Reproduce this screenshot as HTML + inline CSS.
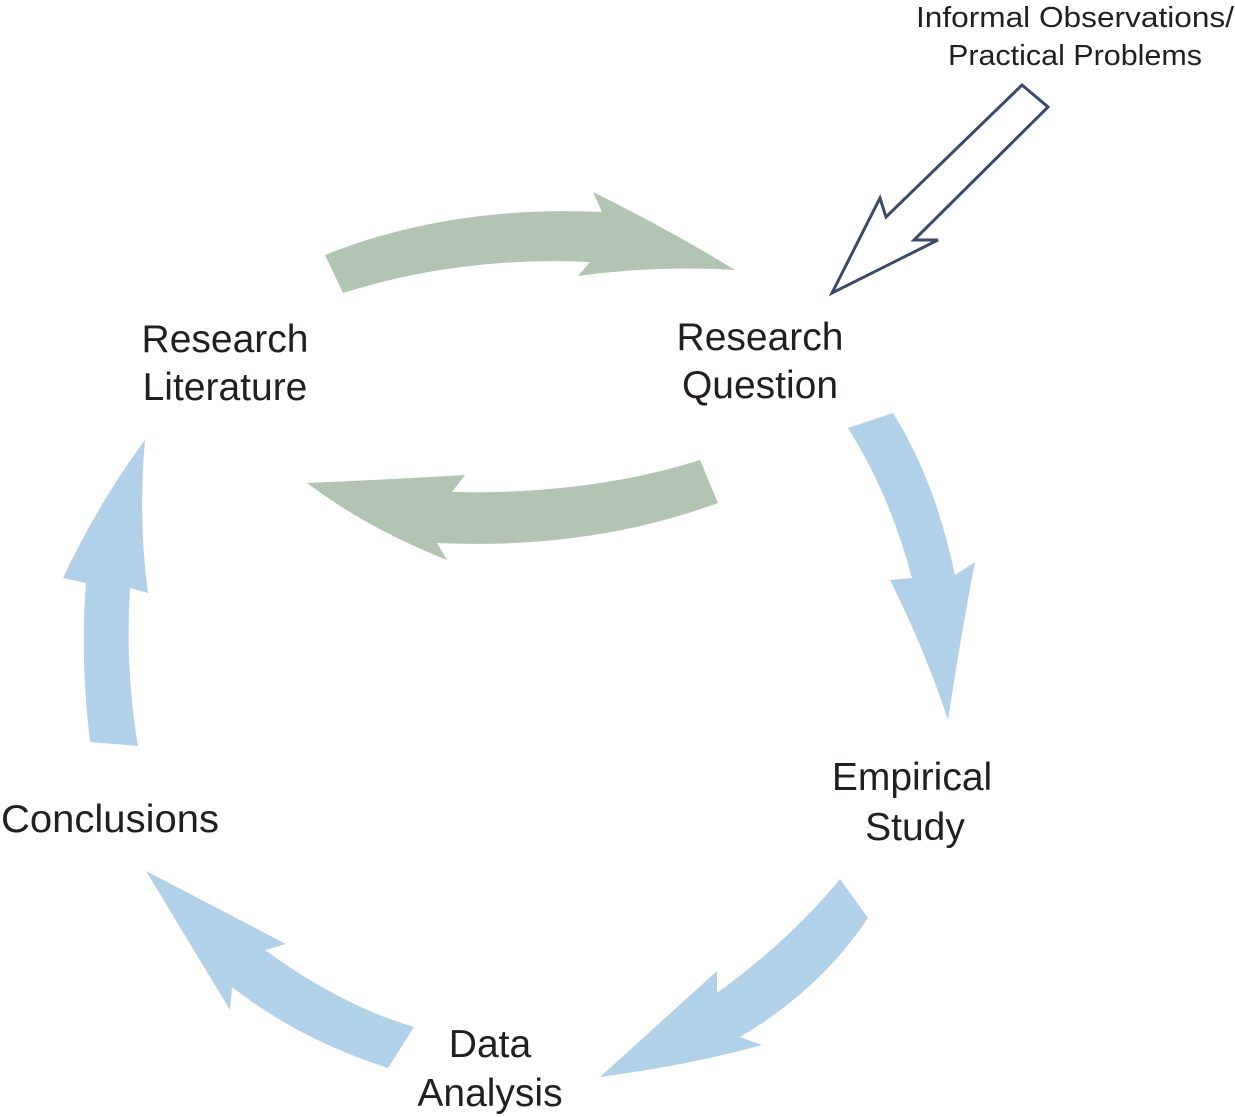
<!DOCTYPE html>
<html><head><style>
html,body{margin:0;padding:0;background:#fff;}
svg{display:block;}
text{font-family:"Liberation Sans",sans-serif;fill:#231f20;}
</style></head><body>
<svg width="1235" height="1117" viewBox="0 0 1235 1117" xmlns="http://www.w3.org/2000/svg">
<g fill="#b1c5b2">
<path d="M325,255 Q450,205 602,212 L593,192 Q670,230 735,270 Q660,265 578,276 L590,262 Q460,256 343,293 Z"/>
<path d="M700,460 Q590,495 452,492 L465,475 Q380,480 307,483 Q370,530 447,560 L437,543 Q590,550 718,503 Z"/>
</g>
<g fill="#b1d1e9">
<path d="M848,428 Q890,495 912,578 L890,580 Q925,650 948,720 Q960,640 975,562 L955,575 Q935,480 893,413 Z"/>
<path d="M840,879 Q790,940 717,993 L717,971 L600,1077 Q690,1065 762,1045 L740,1037 Q820,990 868,918 Z"/>
<path d="M146,871 L286,944 L265,950 Q340,1005 414,1027 L388,1068 Q300,1040 232,987 L230,1010 Z"/>
<path d="M90,742 Q80,660 86,583 L63,578 Q100,500 145,440 Q138,520 148,593 L130,588 Q125,670 138,746 Z"/>
</g>
<polygon points="832,293 880,198 886,217 1022,85 1048,107 914,240 938,240" fill="#fff" stroke="#3b4a6b" stroke-width="3" stroke-linejoin="miter"/>
<g font-size="39" text-anchor="middle">
<text x="225" y="352">Research</text><text x="225" y="400">Literature</text>
<text x="760" y="350">Research</text><text x="760" y="398">Question</text>
<text x="912" y="790">Empirical</text><text x="915" y="840">Study</text>
<text x="110" y="832" textLength="218" lengthAdjust="spacingAndGlyphs">Conclusions</text>
<text x="490" y="1057">Data</text><text x="490" y="1106">Analysis</text>
</g>
<g font-size="29" text-anchor="middle">
<text x="1075" y="27" textLength="318" lengthAdjust="spacingAndGlyphs">Informal Observations/</text>
<text x="1075" y="65" textLength="254" lengthAdjust="spacingAndGlyphs">Practical Problems</text>
</g>
</svg>
</body></html>
